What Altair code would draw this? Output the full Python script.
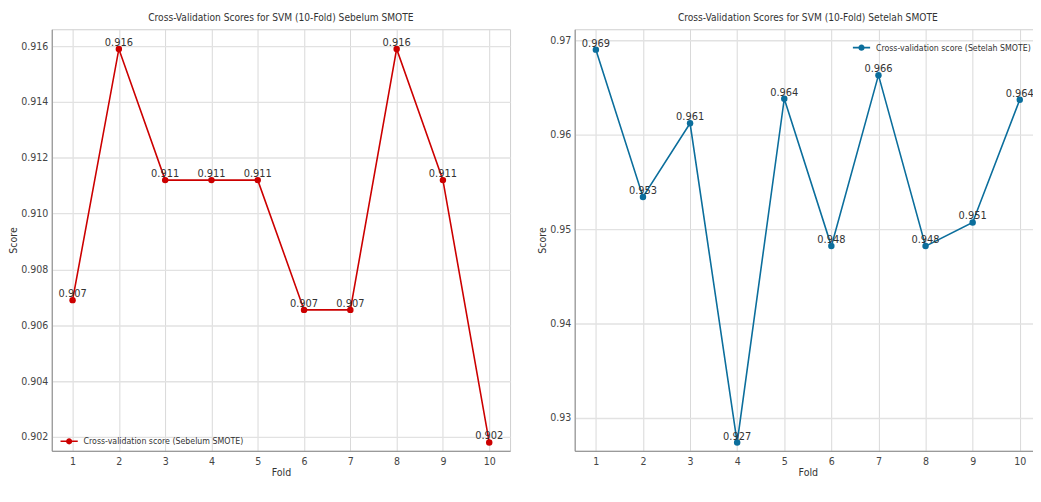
import altair as alt
import pandas as pd

# ---- data ----
folds = [1, 2, 3, 4, 5, 6, 7, 8, 9, 10]
scores_before = [0.9069, 0.9159, 0.9112, 0.9112, 0.9112, 0.90655, 0.90655, 0.9159, 0.9112, 0.9018]
scores_after = [0.9690, 0.9534, 0.9612, 0.9274, 0.9638, 0.9482, 0.9663, 0.9482, 0.9507, 0.9637]
name_before = "Cross-validation score (Sebelum SMOTE)"
name_after = "Cross-validation score (Setelah SMOTE)"
title_before = "Cross-Validation Scores for SVM (10-Fold) Sebelum SMOTE"
title_after = "Cross-Validation Scores for SVM (10-Fold) Setelah SMOTE"
yticks_before = [0.902, 0.904, 0.906, 0.908, 0.910, 0.912, 0.914, 0.916]
yticks_after = [0.93, 0.94, 0.95, 0.96, 0.97]

FONT = "DejaVu Sans Condensed, Liberation Sans, Arial, sans-serif"
TEXT = "#333333"
FRAME = "#cfcfcf"

# line + dot legend glyph (unit coords, scaled by sqrt(size)/2)
LEGEND_GLYPH = (
    "M-1,-0.09L-0.3,-0.09L-0.3,0.09L-1,0.09Z "
    "M0.3,-0.09L1,-0.09L1,0.09L0.3,0.09Z "
    "M-0.36,0A0.36,0.36 0 1,1 0.36,0A0.36,0.36 0 1,1 -0.36,0Z"
)


def panel(scores, name, color, title, ydom, yticks, yfmt, width, height, lx, ly):
    df = pd.DataFrame({"Fold": folds, "Score": scores, "series": [name] * len(folds)})
    x = alt.X(
        "Fold:Q",
        scale=alt.Scale(domain=[0.55, 10.45], nice=False, zero=False),
        axis=alt.Axis(values=folds, format="d", title="Fold", labelPadding=6, titlePadding=0),
    )
    y = alt.Y(
        "Score:Q",
        scale=alt.Scale(domain=ydom, nice=False, zero=False),
        axis=alt.Axis(values=yticks, format=yfmt, title="Score", labelPadding=4, titlePadding=2,
                      gridWidth=1.4, gridColor="#e2e2e2"),
    )
    base = alt.Chart(df).encode(x=x, y=y)
    line = base.mark_line(strokeWidth=1.6, color=color, clip=True)
    dots = base.mark_circle(size=42, opacity=1, clip=True).encode(
        color=alt.Color(
            "series:N",
            scale=alt.Scale(domain=[name], range=[color]),
            legend=alt.Legend(
                title=None,
                orient="none",
                legendX=lx,
                legendY=ly,
                symbolType=LEGEND_GLYPH,
                symbolSize=300,
                symbolOpacity=1,
                labelFontSize=8.8,
                labelFont=FONT,
                labelColor=TEXT,
                labelOffset=5,
                labelLimit=400,
                padding=0,
            ),
        )
    )
    labels = base.mark_text(dy=-3, baseline="alphabetic", align="center", fontSize=11,
                            font=FONT, color=TEXT).encode(
        text=alt.Text("Score:Q", format=".3f")
    )
    return alt.layer(line, dots, labels).properties(
        width=width,
        height=height,
        title=alt.TitleParams(title, fontSize=10.2, font=FONT, color=TEXT, fontWeight="normal",
                              anchor="middle", offset=6),
    )


left = panel(scores_before, name_before, "#cc0000", title_before,
             [0.9015013, 0.916606], yticks_before, ".3f", 461, 424, 8, 405)
right = panel(scores_after, name_after, "#0b6e9c", title_after,
              [0.926526, 0.971158], yticks_after, ".2f", 469, 424, 279, 9)

chart = (
    alt.hconcat(left, right, spacing=26)
    .resolve_scale(color="independent", y="independent", x="independent")
    .resolve_legend(color="independent")
    .properties(padding={"left": 0, "top": 3, "right": -9, "bottom": 0})
    .configure(font=FONT, background="white")
    .configure_view(stroke=FRAME, strokeWidth=1)
    .configure_axis(
        labelFont=FONT,
        labelFontSize=10.6,
        labelColor="#444444",
        titleFont=FONT,
        titleFontSize=10.6,
        titleColor=TEXT,
        titleFontWeight="normal",
        ticks=False,
        grid=True,
        gridColor="#d9d9d9",
        gridWidth=1,
    )
)

chart.save("out.html", embed_options={"renderer": "svg", "actions": False})
